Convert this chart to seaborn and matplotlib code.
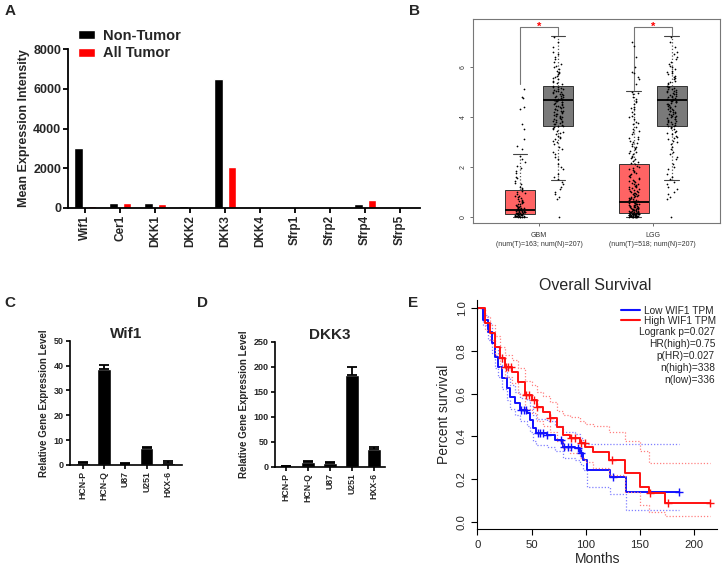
import numpy as np
import pandas as pd
import seaborn as sns
import matplotlib.pyplot as plt
from matplotlib.lines import Line2D

# panel A: microarray means
genes = ["Wif1", "Cer1", "DKK1", "DKK2", "DKK3", "DKK4", "Sfrp1", "Sfrp2", "Sfrp4", "Sfrp5"]
non_tumor = [3000, 260, 260, 110, 6470, 0, 40, 0, 180, 0]
all_tumor = [110, 260, 220, 0, 2080, 0, 30, 0, 420, 0]

# panel B: GEPIA box stats (tumor / normal) for GBM and LGG
cancers = ["GBM\n(num(T)=163; num(N)=207)", "LGG\n(num(T)=518; num(N)=207)"]
tumor_lo = [0.0, 0.0]
tumor_q1 = [0.11, 0.17]
tumor_med = [0.29, 0.60]
tumor_q3 = [1.09, 2.13]
tumor_hi = [2.53, 5.04]
normal_lo = [1.47, 1.47]
normal_q1 = [3.64, 3.64]
normal_med = [4.67, 4.67]
normal_q3 = [5.23, 5.23]
normal_hi = [7.24, 7.24]
sig_top = 7.6
sig_left_end = [5.33, 5.07]
sig_right_end = 7.27

gbm_tumor_pts = [0.0, 0.0, 0.0, 0.01, 0.01, 0.02, 0.02, 0.03, 0.03, 0.04, 0.05, 0.05, 0.06,
                 0.07, 0.07, 0.08, 0.09, 0.1, 0.1, 0.11, 0.12, 0.12, 0.13, 0.14, 0.15, 0.15,
                 0.16, 0.17, 0.18, 0.19, 0.2, 0.2, 0.21, 0.22, 0.23, 0.24, 0.25, 0.26, 0.27,
                 0.28, 0.29, 0.3, 0.3, 0.31, 0.32, 0.34, 0.35, 0.37, 0.38, 0.4, 0.42, 0.44,
                 0.45, 0.48, 0.5, 0.53, 0.55, 0.58, 0.6, 0.62, 0.65, 0.68, 0.72, 0.75, 0.78,
                 0.82, 0.85, 0.9, 0.95, 1.0, 1.05, 1.1, 1.15, 1.2, 1.3, 1.35, 1.45, 1.55,
                 1.6, 1.75, 1.85, 1.95, 2.05, 2.2, 2.3, 2.45, 2.7, 2.85, 3.1, 3.5, 3.7, 4.3,
                 4.4, 4.75, 4.8, 5.1]
lgg_tumor_pts = [0.0, 0.0, 0.0, 0.0, 0.0, 0.01, 0.01, 0.01, 0.02, 0.02, 0.02, 0.03, 0.03,
                 0.04, 0.04, 0.05, 0.05, 0.05, 0.06, 0.06, 0.07, 0.07, 0.08, 0.08, 0.09,
                 0.09, 0.1, 0.1, 0.1, 0.11, 0.11, 0.12, 0.12, 0.13, 0.13, 0.14, 0.14, 0.15,
                 0.15, 0.16, 0.16, 0.17, 0.17, 0.18, 0.18, 0.19, 0.2, 0.2, 0.21, 0.22, 0.23,
                 0.24, 0.25, 0.26, 0.27, 0.28, 0.29, 0.3, 0.31, 0.32, 0.33, 0.34, 0.35, 0.36,
                 0.37, 0.38, 0.39, 0.4, 0.41, 0.42, 0.43, 0.44, 0.45, 0.46, 0.47, 0.48, 0.5,
                 0.51, 0.52, 0.54, 0.55, 0.57, 0.58, 0.6, 0.61, 0.62, 0.64, 0.65, 0.67, 0.68,
                 0.7, 0.72, 0.73, 0.75, 0.76, 0.78, 0.8, 0.82, 0.84, 0.86, 0.88, 0.9, 0.92,
                 0.94, 0.96, 0.98, 1.0, 1.03, 1.05, 1.08, 1.1, 1.13, 1.15, 1.18, 1.2, 1.23,
                 1.25, 1.28, 1.3, 1.33, 1.36, 1.39, 1.42, 1.45, 1.48, 1.52, 1.55, 1.58, 1.62,
                 1.66, 1.7, 1.74, 1.78, 1.82, 1.86, 1.9, 1.95, 2.0, 2.05, 2.1, 2.15, 2.2,
                 2.25, 2.3, 2.35, 2.4, 2.45, 2.5, 2.55, 2.6, 2.65, 2.7, 2.75, 2.8, 2.85, 2.9,
                 2.95, 3.0, 3.05, 3.1, 3.15, 3.2, 3.3, 3.4, 3.45, 3.5, 3.6, 3.7, 3.75, 3.8,
                 3.9, 4.0, 4.05, 4.1, 4.2, 4.3, 4.35, 4.4, 4.5, 4.6, 4.65, 4.7, 4.8, 4.9,
                 4.95, 5.0, 5.3, 5.5, 5.6, 5.75, 5.8, 6.0, 6.4, 6.85, 7.0]
normal_pts = [0.0, 0.7, 0.8, 0.9, 1.0, 1.1, 1.2, 1.3, 1.4, 1.5, 1.6, 1.7, 1.9, 2.0, 2.1,
              2.3, 2.4, 2.5, 2.6, 2.7, 2.8, 2.9, 3.0, 3.05, 3.1, 3.15, 3.2, 3.25, 3.3, 3.35,
              3.4, 3.45, 3.5, 3.55, 3.6, 3.62, 3.65, 3.68, 3.7, 3.73, 3.75, 3.78, 3.8,
              3.83, 3.85, 3.88, 3.9, 3.93, 3.95, 3.98, 4.0, 4.03, 4.05, 4.08, 4.1, 4.13,
              4.15, 4.18, 4.2, 4.23, 4.25, 4.28, 4.3, 4.33, 4.35, 4.38, 4.4, 4.43, 4.45,
              4.48, 4.5, 4.52, 4.55, 4.58, 4.6, 4.62, 4.64, 4.65, 4.67, 4.68, 4.7, 4.72,
              4.75, 4.78, 4.8, 4.82, 4.85, 4.88, 4.9, 4.92, 4.95, 4.98, 5.0, 5.03, 5.05,
              5.08, 5.1, 5.12, 5.15, 5.18, 5.2, 5.25, 5.3, 5.35, 5.4, 5.45, 5.5, 5.55, 5.6,
              5.65, 5.7, 5.75, 5.8, 5.85, 5.9, 6.0, 6.05, 6.1, 6.2, 6.3, 6.4, 6.5, 6.6,
              6.8, 7.0, 7.2]

# panels C and D: qPCR
cell_lines = ["HCN-P", "HCN-Q", "U87", "U251", "HXX-6"]
wif1_mean = [1.0, 38.5, 0.4, 6.8, 0.9]
wif1_sem = [0.1, 1.7, 0.4, 0.6, 0.7]
dkk3_mean = [0.5, 9.5, 6.7, 183.3, 35.3]
dkk3_sem = [0.1, 2.0, 2.0, 16.7, 4.7]

# panel E: Kaplan-Meier (low / high WIF1)
low_t = [0, 5.6, 10.2, 13.3, 16.3, 19.4, 22.5, 27, 30, 34.8, 39.4, 45.6, 48.6, 51.7, 54.2,
         64, 71.7, 79.4, 90, 94.8, 97.9, 101, 122.5, 137, 185.6]
low_s = [1.0, 0.945, 0.89, 0.836, 0.77, 0.727, 0.672, 0.625, 0.586, 0.555, 0.523, 0.508,
         0.477, 0.4375, 0.414, 0.406, 0.383, 0.352, 0.344, 0.32, 0.289, 0.242, 0.21, 0.1375,
         0.1375]
low_up = [1.0, 0.97, 0.93, 0.88, 0.82, 0.78, 0.73, 0.68, 0.64, 0.61, 0.58, 0.57, 0.54, 0.50,
          0.48, 0.47, 0.45, 0.42, 0.41, 0.39, 0.37, 0.365, 0.364, 0.364, 0.364]
low_lo = [1.0, 0.92, 0.85, 0.79, 0.72, 0.68, 0.62, 0.57, 0.53, 0.50, 0.47, 0.45, 0.42, 0.38,
          0.36, 0.35, 0.33, 0.30, 0.29, 0.27, 0.24, 0.16, 0.13, 0.055, 0.055]
high_t = [0, 7, 11.7, 16.3, 21, 25.6, 31.7, 37.9, 44, 50.2, 54.8, 61, 67, 73.2, 79.4, 85.6,
          94.8, 99.4, 107, 121, 136.3, 150.2, 157.9, 173.3, 214.8]
high_s = [1.0, 0.93, 0.883, 0.82, 0.766, 0.727, 0.703, 0.656, 0.594, 0.57, 0.539, 0.516,
          0.484, 0.445, 0.406, 0.39, 0.367, 0.352, 0.328, 0.289, 0.227, 0.164, 0.133, 0.089,
          0.089]
high_up = [1.0, 0.96, 0.92, 0.87, 0.82, 0.78, 0.76, 0.72, 0.66, 0.64, 0.61, 0.59, 0.56,
           0.52, 0.50, 0.49, 0.47, 0.46, 0.45, 0.42, 0.38, 0.33, 0.277, 0.277, 0.277]
high_lo = [1.0, 0.90, 0.85, 0.78, 0.72, 0.68, 0.65, 0.60, 0.53, 0.51, 0.47, 0.45, 0.42,
           0.38, 0.34, 0.32, 0.30, 0.28, 0.25, 0.22, 0.14, 0.08, 0.045, 0.028, 0.028]
low_censor = [40, 43, 45, 56, 58, 61, 64, 77, 80, 84, 86, 93, 96, 125, 185.6]
high_censor = [23, 26, 28, 31, 45, 48, 52, 55, 67, 86, 90, 96, 99, 124, 159, 176, 214.8]
km_stats = ["Logrank p=0.027", "HR(high)=0.75", "p(HR)=0.027", "n(high)=338", "n(low)=336"]

sns.set_style("ticks")
plt.rcParams['font.family'] = ['Liberation Sans', 'DejaVu Sans']

W, H = 724, 575
fig = plt.figure(figsize=(W / 100, H / 100), dpi=100)


def rect(x0, y0, x1, y1):
    # pixel box (top-left origin) -> figure fraction
    return [x0 / W, 1 - y1 / H, (x1 - x0) / W, (y1 - y0) / H]


def prism_axes(ax, lw=1.3):
    sns.despine(ax=ax)
    for s in ["left", "bottom"]:
        ax.spines[s].set_linewidth(lw)
        ax.spines[s].set_color("black")
    ax.tick_params(width=lw, length=3.5, color="black", pad=1.5)


# ---------- A ----------
axA = fig.add_axes(rect(68, 49, 420, 208))
dfA = pd.DataFrame({"gene": genes * 2,
                    "value": non_tumor + all_tumor,
                    "group": ["Non-Tumor"] * len(genes) + ["All Tumor"] * len(genes)})
sns.barplot(data=dfA, x="gene", y="value", hue="group", palette=["black", "#FF0000"],
            width=0.76, gap=0.37, saturation=1, ax=axA)
prism_axes(axA)
axA.set_ylim(0, 8000)
axA.set_yticks([0, 2000, 4000, 6000, 8000])
axA.set_xlim(-0.49, 9.57)
axA.set_xlabel("")
axA.set_ylabel("Mean Expression Intensity", fontsize=9, fontweight="bold", labelpad=2)
axA.tick_params(axis="x", labelrotation=90)
for t in axA.get_xticklabels():
    t.set_fontweight("bold")
    t.set_fontsize(8.5)
for t in axA.get_yticklabels():
    t.set_fontweight("bold")
    t.set_fontsize(9)
h, l = axA.get_legend_handles_labels()
axA.legend(h, l, loc="upper left", bbox_to_anchor=(78 / W, 1 - 28.5 / H),
           bbox_transform=fig.transFigure, frameon=False, borderpad=0, borderaxespad=0,
           handlelength=1.15, handleheight=0.6, handletextpad=0.55, labelspacing=0.27,
           prop={"weight": "bold", "size": 10.5})

# ---------- B ----------
axB = fig.add_axes(rect(472.7, 19.3, 720, 223.3))
off = 0.167
stats, pos, colors = [], [], []
for i in range(len(cancers)):
    stats.append(dict(whislo=tumor_lo[i], q1=tumor_q1[i], med=tumor_med[i], q3=tumor_q3[i],
                      whishi=tumor_hi[i], fliers=[]))
    pos.append(i + 1 - off)
    colors.append("#FF6464")
    stats.append(dict(whislo=normal_lo[i], q1=normal_q1[i], med=normal_med[i],
                      q3=normal_q3[i], whishi=normal_hi[i], fliers=[]))
    pos.append(i + 1 + off)
    colors.append("#7A7A7A")
bp = axB.bxp(stats, positions=pos, widths=0.26, capwidths=0.13, patch_artist=True,
             showfliers=False, manage_ticks=False,
             boxprops=dict(edgecolor="#333333", linewidth=0.7),
             medianprops=dict(color="black", linewidth=1.3),
             whiskerprops=dict(color="#555555", linestyle=":", linewidth=0.9),
             capprops=dict(color="#444444", linewidth=0.8))
for patch, c in zip(bp["boxes"], colors):
    patch.set_facecolor(c)

pts = []
for i, tp in enumerate([gbm_tumor_pts, lgg_tumor_pts]):
    pts += [(i + 1 - off, v) for v in tp]
    pts += [(i + 1 + off, v) for v in normal_pts]
dfB = pd.DataFrame(pts, columns=["pos", "expr"])
np.random.seed(3)
sns.stripplot(data=dfB, x="pos", y="expr", native_scale=True, orient="x", jitter=0.14,
              color="black", size=1.25, linewidth=0, ax=axB, zorder=5)

for i in range(len(cancers)):
    xl, xr = i + 1 - off, i + 1 + off
    axB.plot([xl, xl, xr, xr], [sig_left_end[i], sig_top, sig_top, sig_right_end],
             color="#777777", lw=0.8)
    axB.text(i + 1, sig_top, "*", color="#FF0000", ha="center", va="center", fontsize=8,
             fontweight="bold")

axB.set_xlim(0.418, 2.59)
axB.set_ylim(-0.26, 7.9)
axB.set_xticks([1, 2])
axB.set_xticklabels(cancers, fontsize=5, color="#333333", linespacing=1.4)
axB.set_yticks([0, 2, 4, 6])
axB.set_yticklabels(["0", "2", "4", "6"], fontsize=5, color="#333333", rotation=90,
                    va="center")
axB.set_xlabel("")
axB.set_ylabel("")
axB.tick_params(length=2.5, width=0.6, color="#555555", pad=2)
axB.tick_params(axis="x", pad=4)
for s in axB.spines.values():
    s.set_color("#777777")
    s.set_linewidth(0.8)


# ---------- C and D ----------
def qpcr(ax, means, sems, title, yticks, xlim):
    sns.barplot(x=cell_lines, y=means, color="black", saturation=1, width=0.63, ax=ax)
    ax.errorbar(range(len(cell_lines)), means, yerr=[np.zeros(len(means)), sems],
                fmt="none", ecolor="black", elinewidth=1.3, capsize=3.5, capthick=1.3)
    prism_axes(ax, lw=1.2)
    ax.set_ylim(0, yticks[-1])
    ax.set_yticks(yticks)
    ax.set_xlim(*xlim)
    ax.set_title(title, fontsize=11, fontweight="bold", pad=2)
    ax.set_ylabel("Relative Gene Expression Level", fontsize=7, fontweight="bold",
                  labelpad=3)
    ax.tick_params(axis="x", labelrotation=90, length=3)
    ax.tick_params(axis="y", length=3)
    for t in ax.get_xticklabels():
        t.set_fontweight("bold")
        t.set_fontsize(6.3)
    for t in ax.get_yticklabels():
        t.set_fontweight("bold")
        t.set_fontsize(6.5)


axC = fig.add_axes(rect(70, 340.7, 181.7, 465))
qpcr(axC, wif1_mean, wif1_sem, "Wif1", [0, 10, 20, 30, 40, 50], (-0.6, 4.64))
axD = fig.add_axes(rect(275, 341.7, 385, 466.7))
qpcr(axD, dkk3_mean, dkk3_sem, "DKK3", [0, 50, 100, 150, 200, 250], (-0.5, 4.52))

# ---------- E ----------
axE = fig.add_axes(rect(477.3, 299.8, 717, 529.3))
km_groups = [("Low", low_t, low_s, low_up, low_lo, low_censor, "#1010FF", "#7F7FFF"),
             ("High", high_t, high_s, high_up, high_lo, high_censor, "#FF1010", "#FF8080")]
for name, t, s, up, lo, cens, col, ccol in km_groups:
    for band in (up, lo):
        sns.lineplot(x=t, y=band, drawstyle="steps-post", estimator=None, color=ccol,
                     lw=0.9, ls=(0, (1, 1.5)), ax=axE)
    sns.lineplot(x=t, y=s, drawstyle="steps-post", estimator=None, color=col, lw=1.4,
                 ax=axE)
    idx = np.searchsorted(t, cens, side="right") - 1
    sns.scatterplot(x=cens, y=np.array(s)[idx], marker="+", s=35, color=col, linewidth=1,
                    ax=axE, zorder=4)

axE.set_xlim(0, 221)
axE.set_ylim(-0.036, 1.04)
axE.set_xticks([0, 50, 100, 150, 200])
axE.set_yticks([0, 0.2, 0.4, 0.6, 0.8, 1.0])
axE.set_yticklabels(["0.0", "0.2", "0.4", "0.6", "0.8", "1.0"], rotation=90, va="center")
axE.tick_params(labelsize=8.2, length=4, width=0.8, color="black")
sns.despine(ax=axE)
for sname in ["left", "bottom"]:
    axE.spines[sname].set_color("black")
    axE.spines[sname].set_linewidth(0.8)
axE.set_xlabel("Months", fontsize=10, labelpad=2)
axE.set_ylabel("Percent survival", fontsize=10, labelpad=4)
leg_handles = [Line2D([], [], color="#1010FF", lw=1.5), Line2D([], [], color="#FF1010", lw=1.5)]
axE.legend(leg_handles, ["Low WIF1 TPM", "High WIF1 TPM"], loc="upper right",
           bbox_to_anchor=(716 / W, 1 - 305.5 / H), bbox_transform=fig.transFigure,
           frameon=False, fontsize=7.3, handlelength=1.9, handletextpad=0.35,
           borderpad=0, borderaxespad=0, labelspacing=0)
for k, line in enumerate(km_stats):
    fig.text(715 / W, 1 - (332.3 + 12 * k) / H, line, ha="right", va="center", fontsize=7.3)
fig.text(595 / W, 1 - 286 / H, "Overall Survival", ha="center", va="center", fontsize=11.5)

# panel letters
for letter, x, y in [("A", 10, 11), ("B", 415, 11), ("C", 10, 303), ("D", 202, 303),
                     ("E", 413, 303)]:
    fig.text(x / W, 1 - y / H, letter, ha="center", va="center", fontsize=11,
             fontweight="bold")

fig.savefig("out.png", dpi=100)
